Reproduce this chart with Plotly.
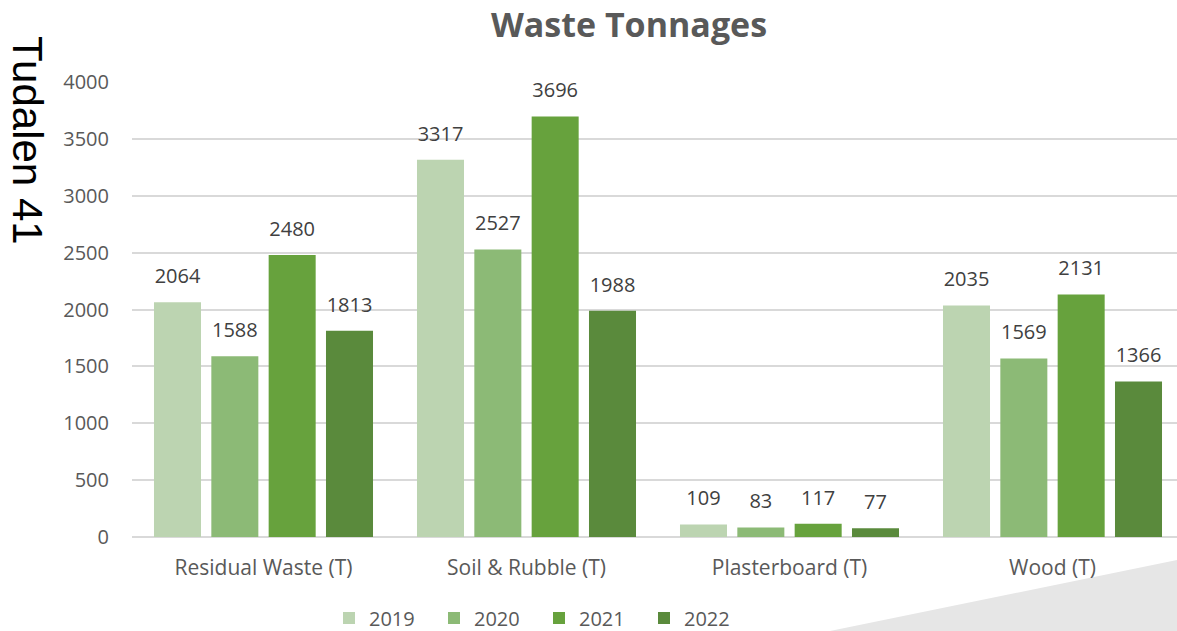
import plotly.graph_objects as go

categories = ["Residual Waste (T)", "Soil & Rubble (T)", "Plasterboard (T)", "Wood (T)"]
years = ["2019", "2020", "2021", "2022"]
v2019 = [2064, 3317, 109, 2035]
v2020 = [1588, 2527, 83, 1569]
v2021 = [2480, 3696, 117, 2131]
v2022 = [1813, 1988, 77, 1366]
series = [v2019, v2020, v2021, v2022]
colors = ["#bcd4b1", "#8cba76", "#67a23d", "#5a8a3c"]

FONT = "Open Sans"
GREY = "#595959"

fig = go.Figure()
for yr, vals, col in zip(years, series, colors):
    fig.add_trace(go.Bar(
        name=yr, x=categories, y=vals, marker=dict(color=col, line=dict(width=0)),
        offsetgroup=yr, alignmentgroup="a",
    ))
for yr, vals in zip(years, series):
    fig.add_trace(go.Scatter(
        x=categories, y=vals, mode="markers+text", text=[str(v) for v in vals],
        textposition="top center", marker=dict(size=21, opacity=0),
        textfont=dict(family=FONT, size=20, color="#404040"),
        offsetgroup=yr, alignmentgroup="a", showlegend=False, hoverinfo="skip",
        cliponaxis=False,
    ))

W, H = 1177, 631
L, R, T, B = 132, 0, 82, 94
pw = W - L - R
ph = H - T - B

fig.update_layout(
    width=W, height=H,
    margin=dict(l=L, r=R, t=T, b=B, autoexpand=False),
    paper_bgcolor="white", plot_bgcolor="white",
    barmode="group", bargap=0.128, bargroupgap=0.18,
    scattermode="group", scattergap=0.128,
    font=dict(family=FONT, color=GREY),
    title=dict(text="<b>Waste Tonnages</b>", x=629 / W, xanchor="center",
               y=1 - 25 / H, yanchor="middle",
               font=dict(family=FONT, size=34, color=GREY)),
    xaxis=dict(range=[-0.5, -0.5 + pw / 263.0], showgrid=False, ticks="",
               showline=False, tickfont=dict(family=FONT, size=21, color=GREY),
               ticklabelstandoff=16),
    yaxis=dict(range=[0, 4000], dtick=500, showgrid=True, gridcolor="#d9d9d9",
               gridwidth=1.5, zeroline=True, zerolinecolor="#d9d9d9", zerolinewidth=1.5,
               tickfont=dict(family=FONT, size=20, color=GREY), ticks="",
               ticklabelstandoff=22),
    legend=dict(orientation="h", xref="container", yref="container",
                x=539 / W, xanchor="center",
                y=1 - 618 / H, yanchor="middle",
                font=dict(family=FONT, size=20, color=GREY),
                itemwidth=30, entrywidth=60, entrywidthmode="pixels",
                tracegroupgap=0, bgcolor="rgba(0,0,0,0)"),
    showlegend=True,
)

# decorative grey wedge bottom-right
fig.add_shape(type="path", xref="paper", yref="paper", layer="below",
              path=f"M {(830 - L) / pw} {-(631 - 537) / ph} L 1 {-(560 - 537) / ph} L 1 {-(631 - 537) / ph} Z",
              fillcolor="#e6e6e6", line=dict(width=0))

fig.add_annotation(text="Tudalen 41", xref="paper", yref="paper",
                   x=-(132 - 28) / pw, y=(537 - 140) / ph,
                   xanchor="center", yanchor="middle", textangle=90, showarrow=False,
                   font=dict(family="Liberation Sans", size=42, color="black"))

fig.write_html("out.html", config={"displayModeBar": False},
               post_script="document.body.style.margin='0px';document.body.style.overflow='hidden';")
